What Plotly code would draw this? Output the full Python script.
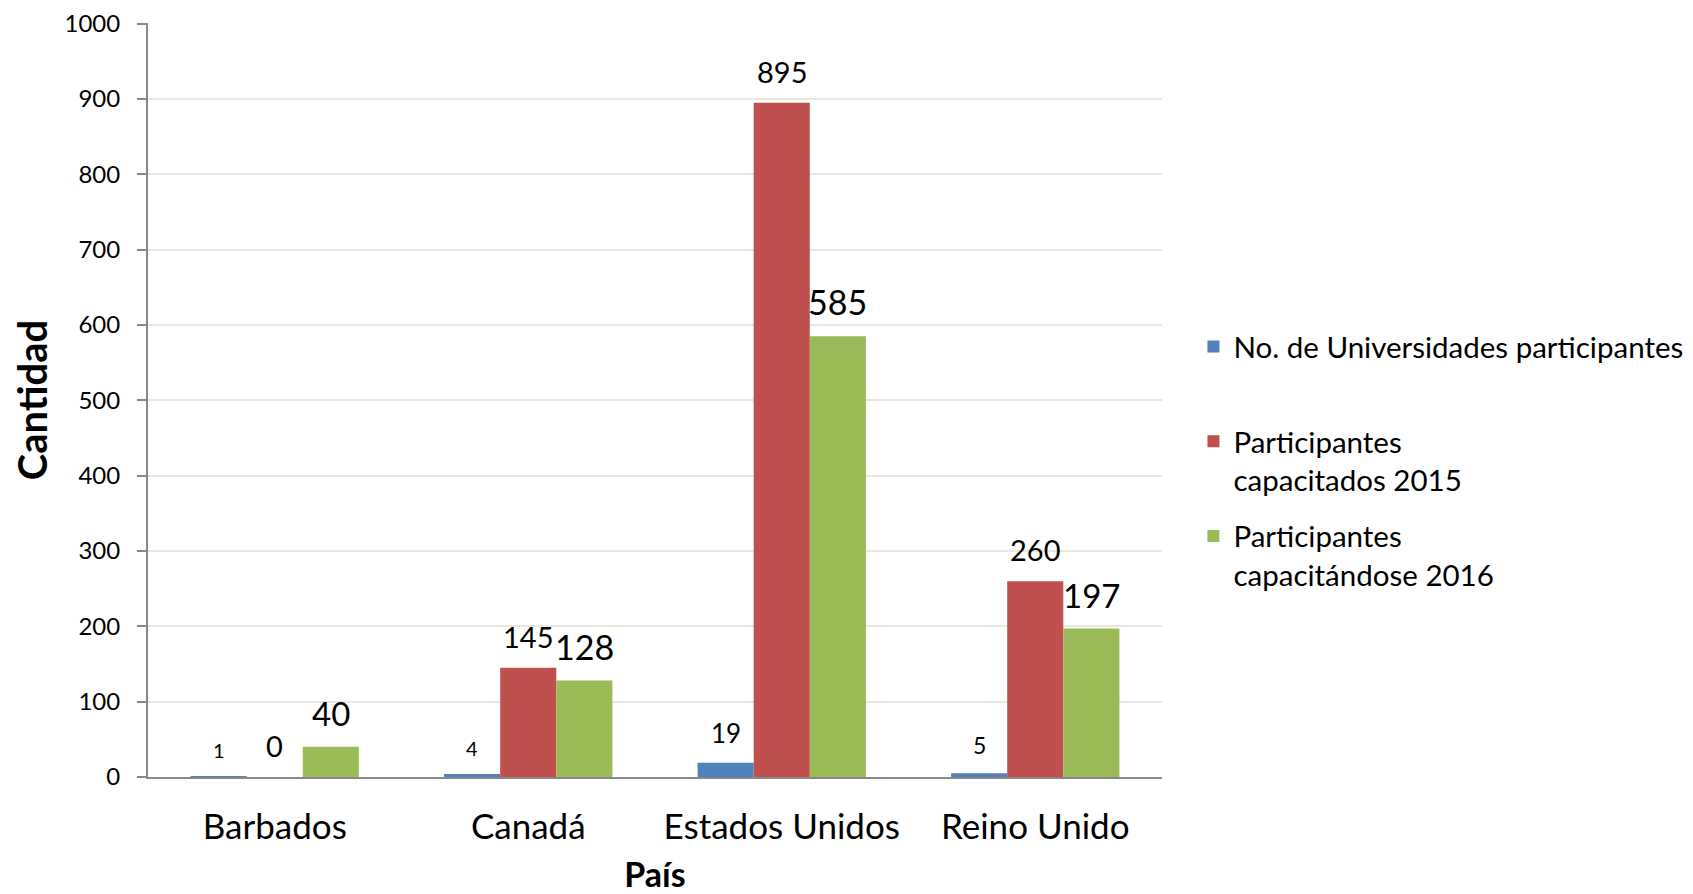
import plotly.graph_objects as go

# ---- data ----
paises = ["Barbados", "Canadá", "Estados Unidos", "Reino Unido"]
universidades = [1, 4, 19, 5]
capacitados_2015 = [0, 145, 895, 260]
capacitandose_2016 = [40, 128, 585, 197]
series_names = [
    "No. de Universidades participantes<br>\u00a0",
    "Participantes<br>capacitados 2015",
    "Participantes<br>capacitándose 2016",
]
y_ticks = [0, 100, 200, 300, 400, 500, 600, 700, 800, 900, 1000]

# ---- style ----
W, H = 1685, 886          # page body adds an 8px offset
ML, MR, MT, MB = 140, 531, 15, 117
BARGAP = 0.336
FONT = "Lato"
colors = ["#4F81BD", "#C0504D", "#9BBB59"]
label_sizes = [[20, 20, 26, 23], [29, 29, 29, 29], [33, 34, 34, 33]]
LABEL_GAP = 12

series = [universidades, capacitados_2015, capacitandose_2016]

fig = go.Figure()
for i, (name, vals) in enumerate(zip(series_names, series)):
    fig.add_trace(go.Bar(
        x=paises, y=vals, name=name, legendgroup=f"g{i}",
        marker=dict(color=colors[i], line=dict(width=0)),
    ))

plot_w = W - ML - MR
bar_w = plot_w / len(paises) * (1 - BARGAP) / 3
annotations = []
for i, vals in enumerate(series):
    for j, (cat, v) in enumerate(zip(paises, vals)):
        annotations.append(dict(
            x=cat, y=v, xref="x", yref="y", text=str(v), showarrow=False,
            xshift=(i - 1) * bar_w, yshift=LABEL_GAP, yanchor="bottom",
            font=dict(family=FONT, size=label_sizes[i][j], color="#000000"),
        ))

fig.update_layout(
    width=W, height=H,
    margin=dict(l=ML, r=MR, t=MT, b=MB, autoexpand=False),
    paper_bgcolor="white", plot_bgcolor="white",
    barmode="group", bargap=BARGAP, bargroupgap=0,
    font=dict(family=FONT, color="#000000"),
    annotations=annotations,
    legend=dict(
        x=1.031, xanchor="left", y=0.605, yanchor="top",
        font=dict(family=FONT, size=29.5, color="#000000"),
        valign="top", tracegroupgap=15, traceorder="grouped",
    ),
    xaxis=dict(
        showline=True, linecolor="#888888", linewidth=2,
        ticks="", tickfont=dict(family=FONT, size=35, color="#000000"),
        ticklabelstandoff=18,
        title=dict(text="<b>País</b>", font=dict(family=FONT, size=34, color="#000000"), standoff=29),
    ),
    yaxis=dict(
        range=[0, 1001], tickvals=y_ticks,
        showline=True, linecolor="#888888", linewidth=2,
        ticks="outside", ticklen=9, tickcolor="#888888", tickwidth=2,
        showgrid=True, gridcolor="#EAE8DD", gridwidth=1.5,
        tickfont=dict(family=FONT, size=24, color="#000000"),
        ticklabelstandoff=12, ticklabeloverflow="allow", zeroline=False,
        title=dict(text="<b>Cantidad</b>", font=dict(family=FONT, size=40, color="#000000"), standoff=21),
    ),
)

fig.write_html("out.html")
